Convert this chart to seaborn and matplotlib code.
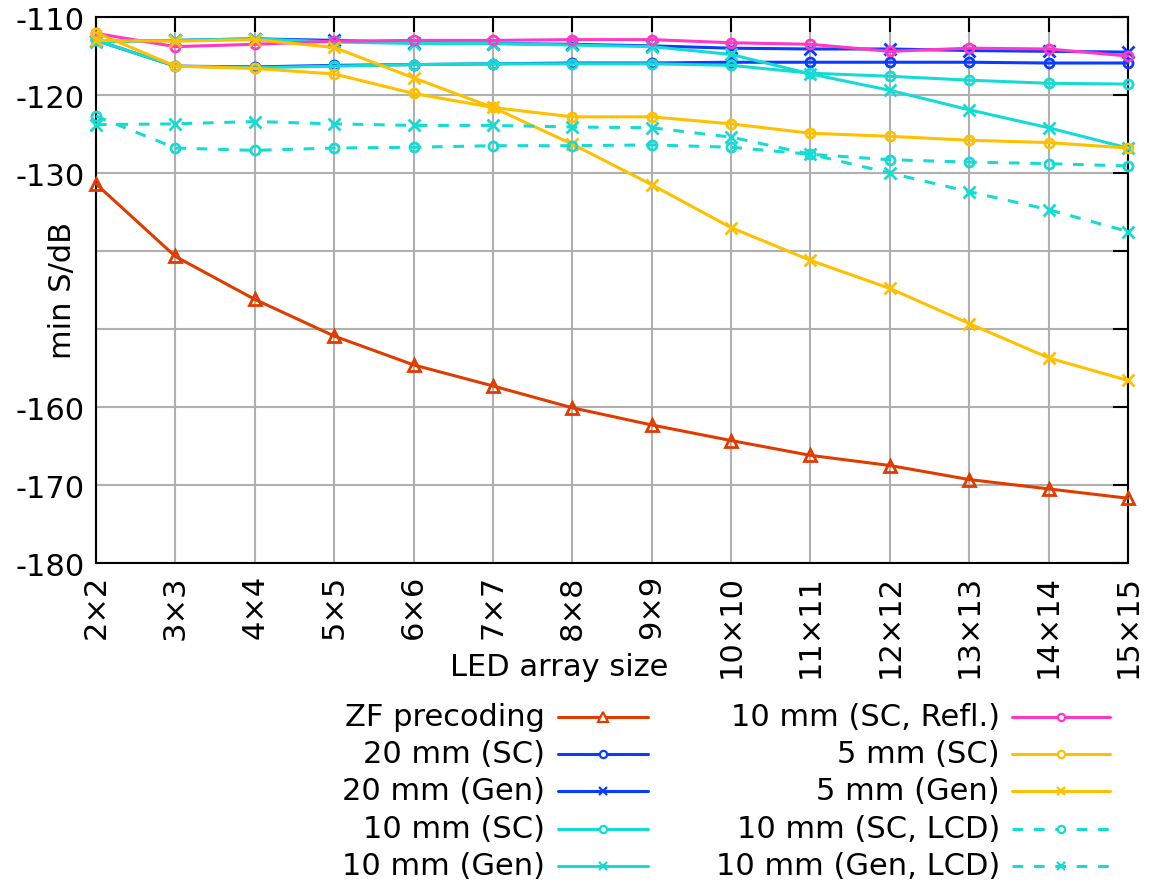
import numpy as np
import pandas as pd
import seaborn as sns
import matplotlib.pyplot as plt
from matplotlib.lines import Line2D

# --- Data ---
sizes = list(range(2, 16))
size_labels = [f"{n}×{n}" for n in sizes]

zf_precoding = [-131.4, -140.7, -146.2, -150.9, -154.6, -157.3, -160.1,
                -162.3, -164.3, -166.2, -167.5, -169.3, -170.5, -171.7]
mm20_sc = [-113.0, -116.3, -116.4, -116.2, -116.1, -116.0, -115.9,
           -115.9, -115.8, -115.8, -115.8, -115.8, -115.9, -115.9]
mm20_gen = [-113.1, -113.0, -112.8, -113.0, -113.3, -113.4, -113.5,
            -113.7, -114.0, -114.1, -114.1, -114.3, -114.4, -114.5]
mm10_sc = [-113.0, -116.3, -116.5, -116.3, -116.1, -116.0, -116.0,
           -116.0, -116.2, -117.2, -117.6, -118.1, -118.5, -118.6]
mm10_gen = [-113.2, -113.0, -112.8, -113.2, -113.4, -113.4, -113.6,
            -113.8, -114.8, -117.3, -119.4, -121.9, -124.2, -126.8]
mm10_sc_refl = [-112.1, -113.8, -113.5, -113.1, -113.0, -113.0, -112.9,
                -112.9, -113.3, -113.5, -114.4, -114.0, -114.1, -115.0]
mm5_sc = [-112.0, -116.3, -116.6, -117.3, -119.8, -121.6, -122.8,
          -122.8, -123.7, -124.9, -125.3, -125.8, -126.1, -126.8]
mm5_gen = [-113.0, -113.1, -112.9, -113.9, -117.8, -121.6, -126.3,
           -131.5, -137.0, -141.2, -144.8, -149.3, -153.7, -156.6]
mm10_sc_lcd = [-122.7, -126.8, -127.1, -126.8, -126.7, -126.5, -126.5,
               -126.4, -126.7, -127.6, -128.3, -128.6, -128.8, -129.1]
mm10_gen_lcd = [-123.8, -123.7, -123.4, -123.7, -123.9, -123.9, -124.1,
                -124.2, -125.4, -127.6, -130.0, -132.4, -134.7, -137.5]

RED = '#e03c00'
BLUE = '#0a3cff'
CYAN = '#14dcd4'
PINK = '#ff38c8'
YELLOW = '#ffc000'

# label, values, color, marker, dashed
series = [
    ('ZF precoding', zf_precoding, RED, '^', False),
    ('20 mm (SC)', mm20_sc, BLUE, 'o', False),
    ('20 mm (Gen)', mm20_gen, BLUE, 'x', False),
    ('10 mm (SC)', mm10_sc, CYAN, 'o', False),
    ('10 mm (Gen)', mm10_gen, CYAN, 'x', False),
    ('10 mm (SC, Refl.)', mm10_sc_refl, PINK, 'o', False),
    ('5 mm (SC)', mm5_sc, YELLOW, 'o', False),
    ('5 mm (Gen)', mm5_gen, YELLOW, 'x', False),
    ('10 mm (SC, LCD)', mm10_sc_lcd, CYAN, 'o', True),
    ('10 mm (Gen, LCD)', mm10_gen_lcd, CYAN, 'x', True),
]

MARKER_SIZE = {'o': 6.5, 'x': 8, '^': 9}
DASHES = (3.5, 3.5)

# --- Plot ---
sns.set_theme(style='white')
plt.rcParams['font.family'] = ['Liberation Sans Narrow', 'DejaVu Sans']
plt.rcParams['font.size'] = 22
for key in ('text.color', 'axes.labelcolor', 'xtick.color', 'ytick.color'):
    plt.rcParams[key] = 'black'

fig = plt.figure(figsize=(11.5, 8.87), dpi=100)
ax = fig.add_axes([96 / 1150, 1 - 564 / 887, (1128 - 96) / 1150, (564 - 18) / 887])

for label, values, color, marker, dashed in series:
    df = pd.DataFrame({'size': np.arange(len(sizes)), 'val': values})
    sns.lineplot(data=df, x='size', y='val', ax=ax, color=color, lw=2.2,
                 marker=marker, markersize=MARKER_SIZE[marker],
                 markerfacecolor='none', markeredgecolor=color,
                 markeredgewidth=2.0, linestyle='--' if dashed else '-',
                 label=label, legend=False, clip_on=False, zorder=3)

for line in ax.get_lines():
    if line.get_linestyle() == '--':
        line.set_dashes(DASHES)

# axes, ticks and grid
ax.set_xlim(0, len(sizes) - 1)
ax.set_ylim(-180, -110)
ax.set_xticks(np.arange(len(sizes)))
ax.set_xticklabels(size_labels, rotation=90, fontsize=22)
yticks = np.arange(-180, -109, 10)
ax.set_yticks(yticks)
ax.set_yticklabels(['' if v in (-140, -150) else str(v) for v in yticks], fontsize=22)
ax.grid(True, color='#b0b0b0', lw=1.5, zorder=0)
ax.set_axisbelow(True)
ax.tick_params(direction='in', length=11, width=1.5, top=True, right=True,
               colors='black', labelcolor='black', pad=8)
for sp in ax.spines.values():
    sp.set_color('black')
    sp.set_linewidth(1.5)

ax.set_xlabel('LED array size', fontsize=22)
ax.xaxis.set_label_coords((559 - 96) / (1128 - 96), -(668 - 564) / (564 - 18), transform=ax.transAxes)
ax.xaxis.label.set_va('center')
ax.set_ylabel('min S/dB', fontsize=22)
ax.yaxis.set_label_coords(-(96 - 62) / (1128 - 96), 0.5)
ax.yaxis.label.set_va('center')

# --- Legend (gnuplot style: right aligned text, then sample) ---
W, H = 1150, 887
rows = [718, 755, 792, 830, 867]
cols = [(545, 558, 648), (1000, 1012, 1110)]
for i, (label, values, color, marker, dashed) in enumerate(series):
    c, r = divmod(i, 5)
    tx, x0, x1 = cols[c]
    y = 1 - rows[r] / H
    fig.text(tx / W, y, label, ha='right', va='center', fontsize=22)
    ln = Line2D([x0 / W, x1 / W], [y, y], transform=fig.transFigure, color=color,
                lw=2.2, linestyle='--' if dashed else '-')
    if dashed:
        ln.set_dashes(DASHES)
    fig.add_artist(ln)
    mk = Line2D([(x0 + x1) / 2 / W], [y], transform=fig.transFigure, color=color,
                marker=marker, markersize=MARKER_SIZE[marker] * 0.8,
                markerfacecolor='white', markeredgewidth=1.6, linestyle='none')
    fig.add_artist(mk)

fig.savefig('out.png', dpi=100)
